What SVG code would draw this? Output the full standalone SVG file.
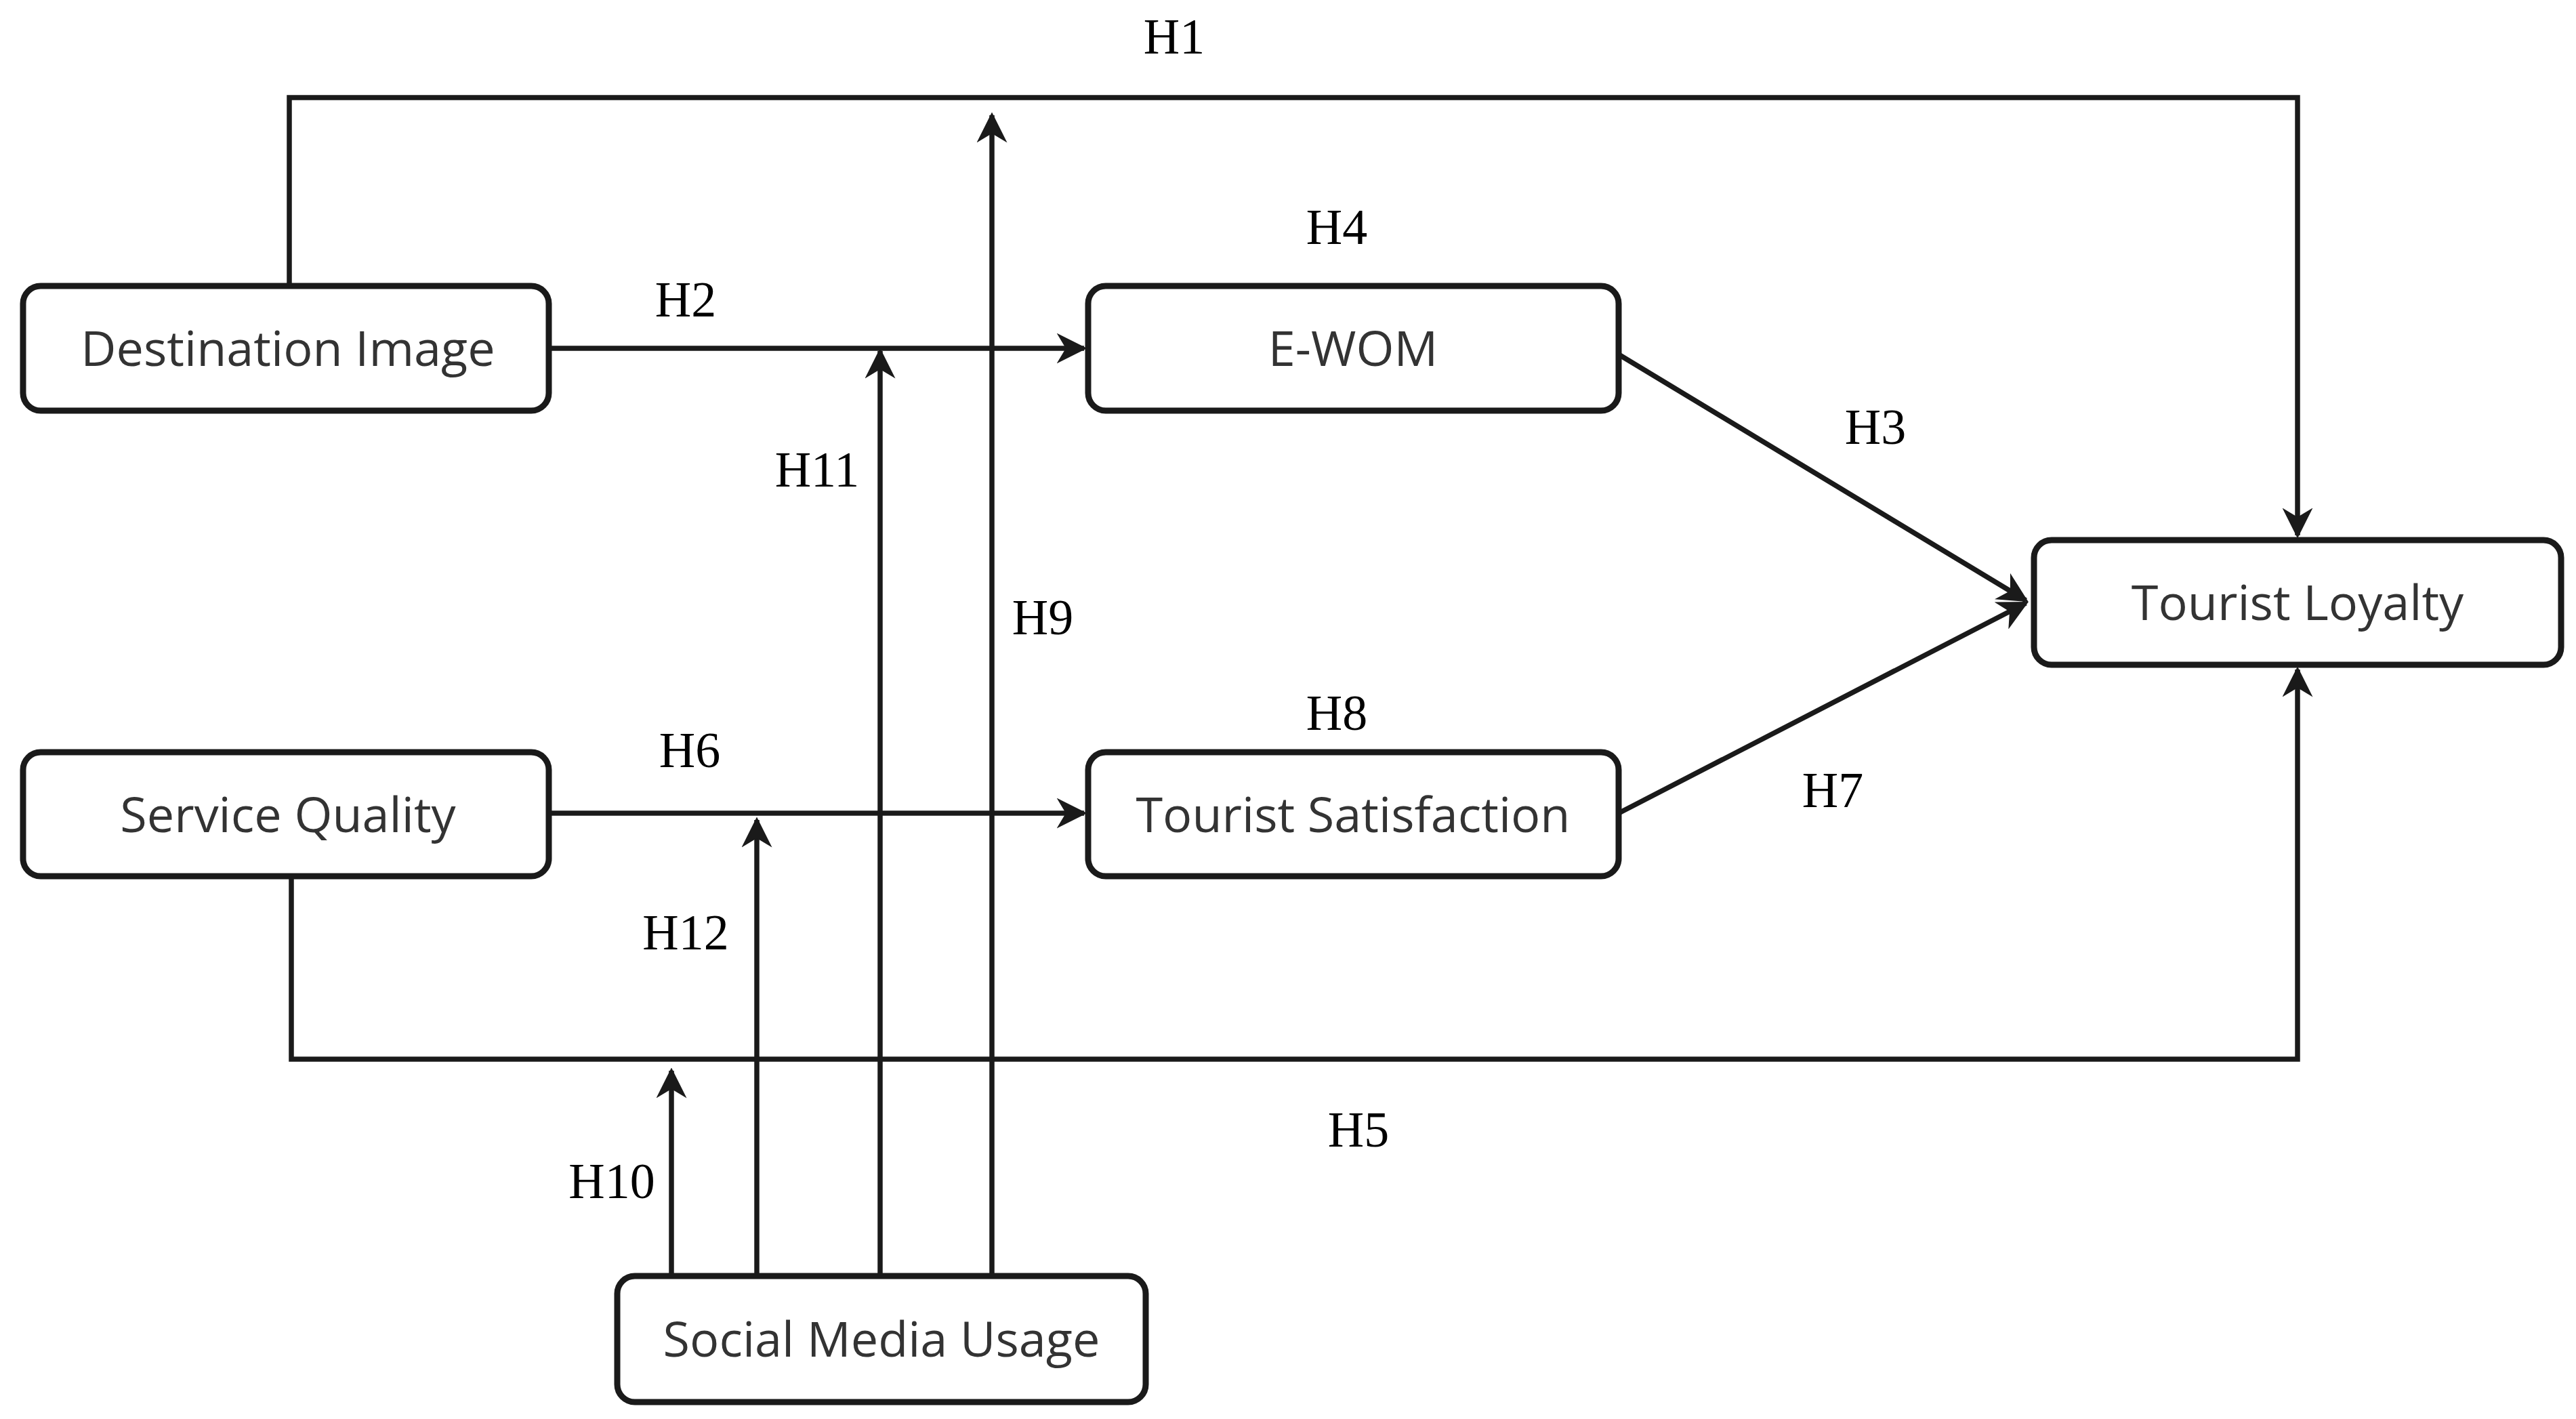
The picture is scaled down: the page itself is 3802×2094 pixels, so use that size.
<svg xmlns="http://www.w3.org/2000/svg" width="3802" height="2094" viewBox="0 0 3802 2094">
<style>
.box{fill:#fff;stroke:#1a1a1a;stroke-width:9}
.nt{font-family:"Open Sans","DejaVu Sans",sans-serif;font-size:72px;fill:#333;text-anchor:middle;dominant-baseline:central}
.lb{font-family:"Liberation Serif","DejaVu Serif",serif;font-size:74px;fill:#000;text-anchor:middle;dominant-baseline:central}
.ln{fill:none;stroke:#1a1a1a;stroke-width:7.5}
</style>
<defs>
<marker id="a" viewBox="0 0 10 10" refX="9" refY="5" markerWidth="6" markerHeight="6" orient="auto">
<path d="M0,0 L10,5 L0,10 L3,5 Z" fill="#1a1a1a"/>
</marker>
</defs>
<g id="connectors">
<path class="ln" d="M427,422 V144 H3391 V790" marker-end="url(#a)"/>
<path class="ln" d="M810,514 H1600" marker-end="url(#a)"/>
<path class="ln" d="M810,1200 H1600" marker-end="url(#a)"/>
<path class="ln" d="M2389,523 L2990,886" marker-end="url(#a)"/>
<path class="ln" d="M2389,1200 L2990,890" marker-end="url(#a)"/>
<path class="ln" d="M430,1293 V1563 H3391 V988" marker-end="url(#a)"/>
<path class="ln" d="M991,1883 V1580" marker-end="url(#a)"/>
<path class="ln" d="M1117,1883 V1210" marker-end="url(#a)"/>
<path class="ln" d="M1299,1883 V518" marker-end="url(#a)"/>
<path class="ln" d="M1464,1883 V170" marker-end="url(#a)"/>
</g>
<g id="destination-image"><rect class="box" x="34" y="422" width="776" height="184" rx="26"/><text class="nt" x="425" y="512">Destination Image</text></g>
<g id="service-quality"><rect class="box" x="34" y="1110" width="776" height="183" rx="26"/><text class="nt" x="425" y="1200">Service Quality</text></g>
<g id="e-wom"><rect class="box" x="1606" y="422" width="783" height="184" rx="26"/><text class="nt" x="1997" y="512">E-WOM</text></g>
<g id="tourist-satisfaction"><rect class="box" x="1606" y="1110" width="783" height="183" rx="26"/><text class="nt" x="1997" y="1200">Tourist Satisfaction</text></g>
<g id="tourist-loyalty"><rect class="box" x="3002" y="797" width="778" height="184" rx="26"/><text class="nt" x="3391" y="887">Tourist Loyalty</text></g>
<g id="social-media-usage"><rect class="box" x="911" y="1883" width="780" height="186" rx="26"/><text class="nt" x="1301" y="1974">Social Media Usage</text></g>
<g id="labels">
<text class="lb" x="1733" y="54">H1</text>
<text class="lb" x="1012" y="442">H2</text>
<text class="lb" x="1973" y="335">H4</text>
<text class="lb" x="2768" y="630">H3</text>
<text class="lb" x="1206" y="693">H11</text>
<text class="lb" x="1539" y="911">H9</text>
<text class="lb" x="1973" y="1052">H8</text>
<text class="lb" x="1018" y="1107">H6</text>
<text class="lb" x="2705" y="1166">H7</text>
<text class="lb" x="1012" y="1376">H12</text>
<text class="lb" x="2005" y="1667">H5</text>
<text class="lb" x="903" y="1743">H10</text>
</g>
</svg>
